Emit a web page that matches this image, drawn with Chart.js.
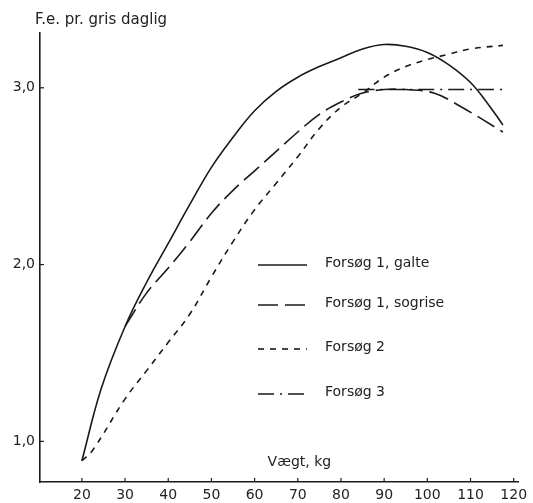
<!DOCTYPE html>
<html>
<head>
<meta charset="utf-8">
<title>F.e. pr. gris daglig</title>
<script src="https://cdn.jsdelivr.net/npm/chart.js@4.4.1/dist/chart.umd.min.js"></script>
<style>
    html, body { margin: 0; padding: 0; background: #ffffff; }
    #wrap { width: 533px; height: 503px; }
</style>
</head>
<body>
<div id="wrap"><canvas id="feed-chart" width="533" height="503"></canvas></div>
<script>
/**
 * Foderforbrug pr. gris - kurver for forsøg 1-3
 */

// Tick labels
const xTicks = [20, 30, 40, 50, 60, 70, 80, 90, 100, 110, 120];
const yTicks = [1, 2, 3];

// Forsøg 1, galte
const galteKg = [20, 24.5, 30, 35, 40, 45, 50, 55, 60, 65, 70, 75, 80, 85, 90, 95, 100, 105, 110, 114, 117.5];
const galteFe = [0.89, 1.30, 1.65, 1.90, 2.12, 2.34, 2.55, 2.72, 2.87, 2.98, 3.06, 3.12, 3.17, 3.22, 3.245, 3.235, 3.20, 3.13, 3.03, 2.91, 2.79];

// Forsøg 1, sogrise
const sogriseKg = [30, 35, 40, 45, 50, 55, 60, 65, 70, 75, 80, 85, 90, 95, 101.5, 108, 117.5];
const sogriseFe = [1.65, 1.84, 1.98, 2.13, 2.29, 2.42, 2.53, 2.64, 2.75, 2.85, 2.92, 2.97, 2.99, 2.99, 2.97, 2.89, 2.75];

// Forsøg 2
const forsoeg2Kg = [20, 22.5, 30, 35, 40, 45, 50, 55, 60, 65, 70, 75, 80, 85, 90, 95, 100, 105, 110, 117.5];
const forsoeg2Fe = [0.89, 0.95, 1.24, 1.40, 1.56, 1.72, 1.93, 2.13, 2.31, 2.46, 2.61, 2.77, 2.89, 2.97, 3.06, 3.12, 3.16, 3.19, 3.22, 3.24];

// Forsøg 3
const forsoeg3Kg = [84, 118];
const forsoeg3Fe = [2.99, 2.99];

// Legend entries and line styles
const seriesNames = ['Forsøg 1, galte', 'Forsøg 1, sogrise', 'Forsøg 2', 'Forsøg 3'];
const seriesDash = [[], [20, 7], [6, 6], [16, 6, 2, 6]];

const inkColor = '#1a1a1a';
const textColor = '#222222';
const fontFamily = '"DejaVu Sans", Arial, sans-serif';

/**
 * Zip x and y arrays into point objects
 */
function toPoints(xs, ys) {
    return xs.map((x, i) => ({ x: x, y: ys[i] }));
}

/**
 * Build one line dataset
 */
function makeDataset(index, xs, ys) {
    return {
        label: seriesNames[index],
        data: toPoints(xs, ys),
        borderColor: inkColor,
        borderWidth: 1.6,
        borderDash: seriesDash[index],
        pointRadius: 0,
        tension: 0.4,
        fill: false
    };
}

/**
 * Plugin: inward tick marks, axis titles and legend in the plot
 */
const annotationsPlugin = {
    id: 'annotations',
    afterDraw(chart) {
        const ctx = chart.ctx;
        const area = chart.chartArea;
        const xScale = chart.scales.x;
        const yScale = chart.scales.y;

        ctx.save();

        // Tick marks pointing into the plot
        ctx.strokeStyle = inkColor;
        ctx.lineWidth = 1.2;
        ctx.setLineDash([]);
        xTicks.forEach(v => {
            const px = xScale.getPixelForValue(v);
            ctx.beginPath();
            ctx.moveTo(px, area.bottom);
            ctx.lineTo(px, area.bottom - 4);
            ctx.stroke();
        });
        yTicks.forEach(v => {
            const py = yScale.getPixelForValue(v);
            ctx.beginPath();
            ctx.moveTo(area.left, py);
            ctx.lineTo(area.left + 4, py);
            ctx.stroke();
        });

        // Axis titles
        ctx.fillStyle = textColor;
        ctx.textBaseline = 'middle';
        ctx.textAlign = 'left';
        ctx.font = '15px ' + fontFamily;
        ctx.fillText('F.e. pr. gris daglig', area.left - 5, area.top - 13);
        ctx.font = '14px ' + fontFamily;
        ctx.fillText('Vægt, kg', xScale.getPixelForValue(63), area.bottom - 20);

        // Legend
        const lineLeft = area.left + 218;
        const lineRight = area.left + 267;
        const textLeft = area.left + 285;
        const rowY = [area.top + 230, area.top + 270, area.top + 314, area.top + 359];

        seriesNames.forEach((name, i) => {
            ctx.setLineDash(seriesDash[i]);
            ctx.lineWidth = 1.6;
            ctx.beginPath();
            ctx.moveTo(lineLeft, rowY[i] + 2);
            ctx.lineTo(lineRight, rowY[i] + 2);
            ctx.stroke();
            ctx.setLineDash([]);
            ctx.fillText(name, textLeft, rowY[i]);
        });

        ctx.restore();
    }
};

/**
 * Create the chart
 */
function createFeedChart() {
    const canvas = document.getElementById('feed-chart');

    new Chart(canvas, {
        type: 'line',
        data: {
            datasets: [
                makeDataset(0, galteKg, galteFe),
                makeDataset(1, sogriseKg, sogriseFe),
                makeDataset(2, forsoeg2Kg, forsoeg2Fe),
                makeDataset(3, forsoeg3Kg, forsoeg3Fe)
            ]
        },
        options: {
            responsive: false,
            animation: false,
            layout: {
                padding: { top: 33, right: 15, left: 0, bottom: 0 }
            },
            plugins: {
                legend: { display: false },
                tooltip: { enabled: false }
            },
            scales: {
                x: {
                    type: 'linear',
                    min: 10.3,
                    max: 121,
                    afterBuildTicks: scale => {
                        scale.ticks = xTicks.map(v => ({ value: v }));
                    },
                    afterFit: scale => {
                        scale.height = 21;
                    },
                    grid: { display: false, drawTicks: false },
                    border: { display: true, color: inkColor, width: 1.6 },
                    ticks: {
                        padding: 5,
                        color: textColor,
                        font: { family: fontFamily, size: 14 },
                        maxRotation: 0
                    }
                },
                y: {
                    type: 'linear',
                    min: 0.77,
                    max: 3.31,
                    afterBuildTicks: scale => {
                        scale.ticks = yTicks.map(v => ({ value: v }));
                    },
                    afterFit: scale => {
                        scale.width = 40;
                    },
                    grid: { display: false, drawTicks: false },
                    border: { display: true, color: inkColor, width: 1.6 },
                    ticks: {
                        padding: 5,
                        color: textColor,
                        font: { family: fontFamily, size: 14 },
                        callback: value => value.toFixed(1).replace('.', ',')
                    }
                }
            }
        },
        plugins: [annotationsPlugin]
    });
}

createFeedChart();
</script>
</body>
</html>
